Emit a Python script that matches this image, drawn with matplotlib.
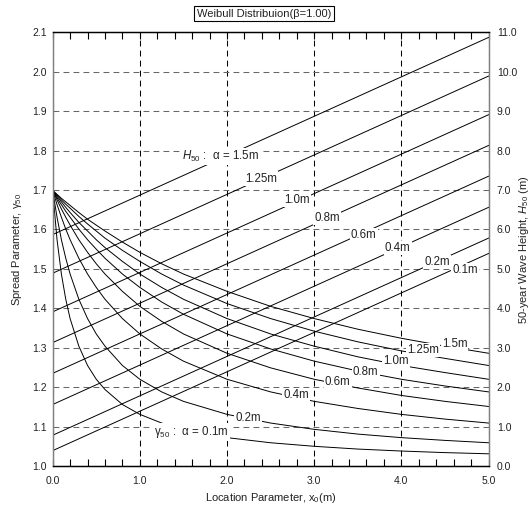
import numpy as np
import matplotlib
matplotlib.use('Agg')
import matplotlib.pyplot as plt
from matplotlib.ticker import MultipleLocator, FormatStrFormatter

plt.rcParams['font.family'] = ['Liberation Sans', 'DejaVu Sans']
plt.rcParams['mathtext.fontset'] = 'custom'
plt.rcParams['mathtext.rm'] = 'Liberation Sans'
plt.rcParams['mathtext.it'] = 'Liberation Sans:italic'

# scale parameter of each curve (m)
alpha = [0.1, 0.2, 0.4, 0.6, 0.8, 1.0, 1.25, 1.5]

# spread parameter gamma50 read along x0
x0 = [0, 0.05, 0.1, 0.15, 0.2, 0.3, 0.4, 0.5, 0.6, 0.8, 1.0, 1.25, 1.5, 2.0, 2.5, 3.0, 3.5, 4.0, 4.5, 5.0]
g_01 = [1.699, 1.574, 1.487, 1.423, 1.374, 1.304, 1.255, 1.220, 1.194, 1.156, 1.131, 1.109, 1.093, 1.072, 1.059, 1.050, 1.043, 1.038, 1.034, 1.031]
g_02 = [1.699, 1.631, 1.574, 1.527, 1.487, 1.423, 1.374, 1.335, 1.304, 1.255, 1.220, 1.188, 1.164, 1.131, 1.109, 1.093, 1.081, 1.072, 1.065, 1.059]
g_04 = [1.699, 1.663, 1.631, 1.601, 1.574, 1.527, 1.487, 1.453, 1.423, 1.374, 1.335, 1.297, 1.266, 1.220, 1.188, 1.164, 1.146, 1.131, 1.119, 1.109]
g_06 = [1.699, 1.675, 1.652, 1.631, 1.611, 1.574, 1.542, 1.513, 1.487, 1.443, 1.405, 1.367, 1.335, 1.286, 1.249, 1.220, 1.198, 1.179, 1.164, 1.151]
g_08 = [1.699, 1.680, 1.663, 1.646, 1.631, 1.601, 1.574, 1.550, 1.527, 1.487, 1.453, 1.416, 1.385, 1.335, 1.297, 1.266, 1.241, 1.220, 1.203, 1.188]
g_10 = [1.699, 1.684, 1.670, 1.656, 1.643, 1.618, 1.596, 1.574, 1.554, 1.519, 1.487, 1.453, 1.423, 1.374, 1.335, 1.304, 1.277, 1.255, 1.237, 1.220]
g_125 = [1.699, 1.687, 1.675, 1.664, 1.654, 1.633, 1.614, 1.596, 1.578, 1.547, 1.519, 1.487, 1.459, 1.412, 1.374, 1.342, 1.315, 1.292, 1.273, 1.255]
g_15 = [1.699, 1.689, 1.679, 1.670, 1.661, 1.643, 1.626, 1.611, 1.596, 1.568, 1.542, 1.513, 1.487, 1.443, 1.405, 1.374, 1.347, 1.324, 1.304, 1.286]
gamma50 = [g_01, g_02, g_04, g_06, g_08, g_10, g_125, g_15]

# 50-year wave height (m), straight lines from x0=0 to x0=5
x_ends = [0, 5]
h50_start = [0.39, 0.78, 1.56, 2.35, 3.13, 3.91, 4.89, 5.87]
h50_end = [5.39, 5.78, 6.56, 7.35, 8.13, 8.91, 9.89, 10.87]

# inline labels
h_lab = ['0.1m', '0.2m', '0.4m', '0.6m', '0.8m', '1.0m', '1.25m', r'$H_{50}$ :  α = 1.5m']
h_lab_x = [4.73, 4.41, 3.96, 3.57, 3.15, 2.80, 2.39, 1.93]
h_lab_y = [4.98, 5.17, 5.53, 5.85, 6.30, 6.74, 7.29, 7.85]
g_lab = [r'γ$_{50}$ :  α = 0.1m', '0.2m', '0.4m', '0.6m', '0.8m', '1.0m', '1.25m', '1.5m']
g_lab_x = [1.59, 2.24, 2.79, 3.27, 3.59, 3.94, 4.25, 4.61]
g_lab_y = [1.086, 1.121, 1.179, 1.213, 1.238, 1.267, 1.295, 1.310]

fig = plt.figure(figsize=(5.31, 5.05), dpi=100)
ax = fig.add_axes([0.0992, 0.0772, 0.8208, 0.8588])
ax2 = ax.twinx()

for g in gamma50:
    ax.plot(x0, g, color='k', lw=0.7)
for h0, h1 in zip(h50_start, h50_end):
    ax2.plot(x_ends, [h0, h1], color='k', lw=0.7)

box = dict(facecolor='white', edgecolor='none', pad=0.8)
for t, x, y in zip(h_lab, h_lab_x, h_lab_y):
    ax2.text(x, y, t, ha='center', va='center', fontsize=8.3, color='#222222',
             bbox=box, zorder=5)
for t, x, y in zip(g_lab, g_lab_x, g_lab_y):
    ax2.text(x, y, t, ha='center', va='center', fontsize=8.3, color='#222222',
             bbox=box, zorder=5, transform=ax.transData)

ax.set_xlim(0, 5)
ax.set_ylim(1.0, 2.1)
ax2.set_ylim(0, 11)
ax.xaxis.set_major_locator(MultipleLocator(1))
ax.xaxis.set_minor_locator(MultipleLocator(0.2))
ax.yaxis.set_major_locator(MultipleLocator(0.1))
ax2.yaxis.set_major_locator(MultipleLocator(1))
ax.xaxis.set_major_formatter(FormatStrFormatter('%.1f'))
ax.yaxis.set_major_formatter(FormatStrFormatter('%.1f'))
ax2.yaxis.set_major_formatter(FormatStrFormatter('%.1f'))

ax.tick_params(axis='x', which='both', direction='in', top=True, length=5,
               width=0.8, pad=7, labelsize=7.5, labelcolor='#222222')
ax.tick_params(axis='y', length=0, pad=4, labelsize=7.5, labelcolor='#222222')
ax2.tick_params(axis='y', length=0, pad=6, labelsize=7.5, labelcolor='#222222')

dash = (0, (5.6, 4))
ax.xaxis.grid(True, which='major', color='k', lw=0.75, ls=dash)
ax.yaxis.grid(True, which='major', color='#666666', lw=0.75, ls=dash)

for a in (ax, ax2):
    a.spines['left'].set_color('#808080')
    a.spines['right'].set_color('#808080')
    a.spines['top'].set_color('k')
    a.spines['bottom'].set_color('k')
    for s in a.spines.values():
        s.set_linewidth(0.9)

ax.set_xlabel('Location Parameter, x$_0$(m)', fontsize=8, labelpad=4, color='#222222')
ax.set_ylabel('Spread Parameter, γ$_{50}$', fontsize=8, labelpad=6, color='#222222')
ax2.set_ylabel('50-year Wave Height, $H_{50}$ (m)', fontsize=8, color='#222222')
ax2.yaxis.set_label_coords(1.066, 0.5)

fig.text(0.497, 0.973, 'Weibull Distribuion(β=1.00)', ha='center', va='center',
         fontsize=8, color='#222222',
         bbox=dict(facecolor='white', edgecolor='k', lw=0.8, boxstyle='square,pad=0.25'))

fig.savefig('out.png', dpi=100)
